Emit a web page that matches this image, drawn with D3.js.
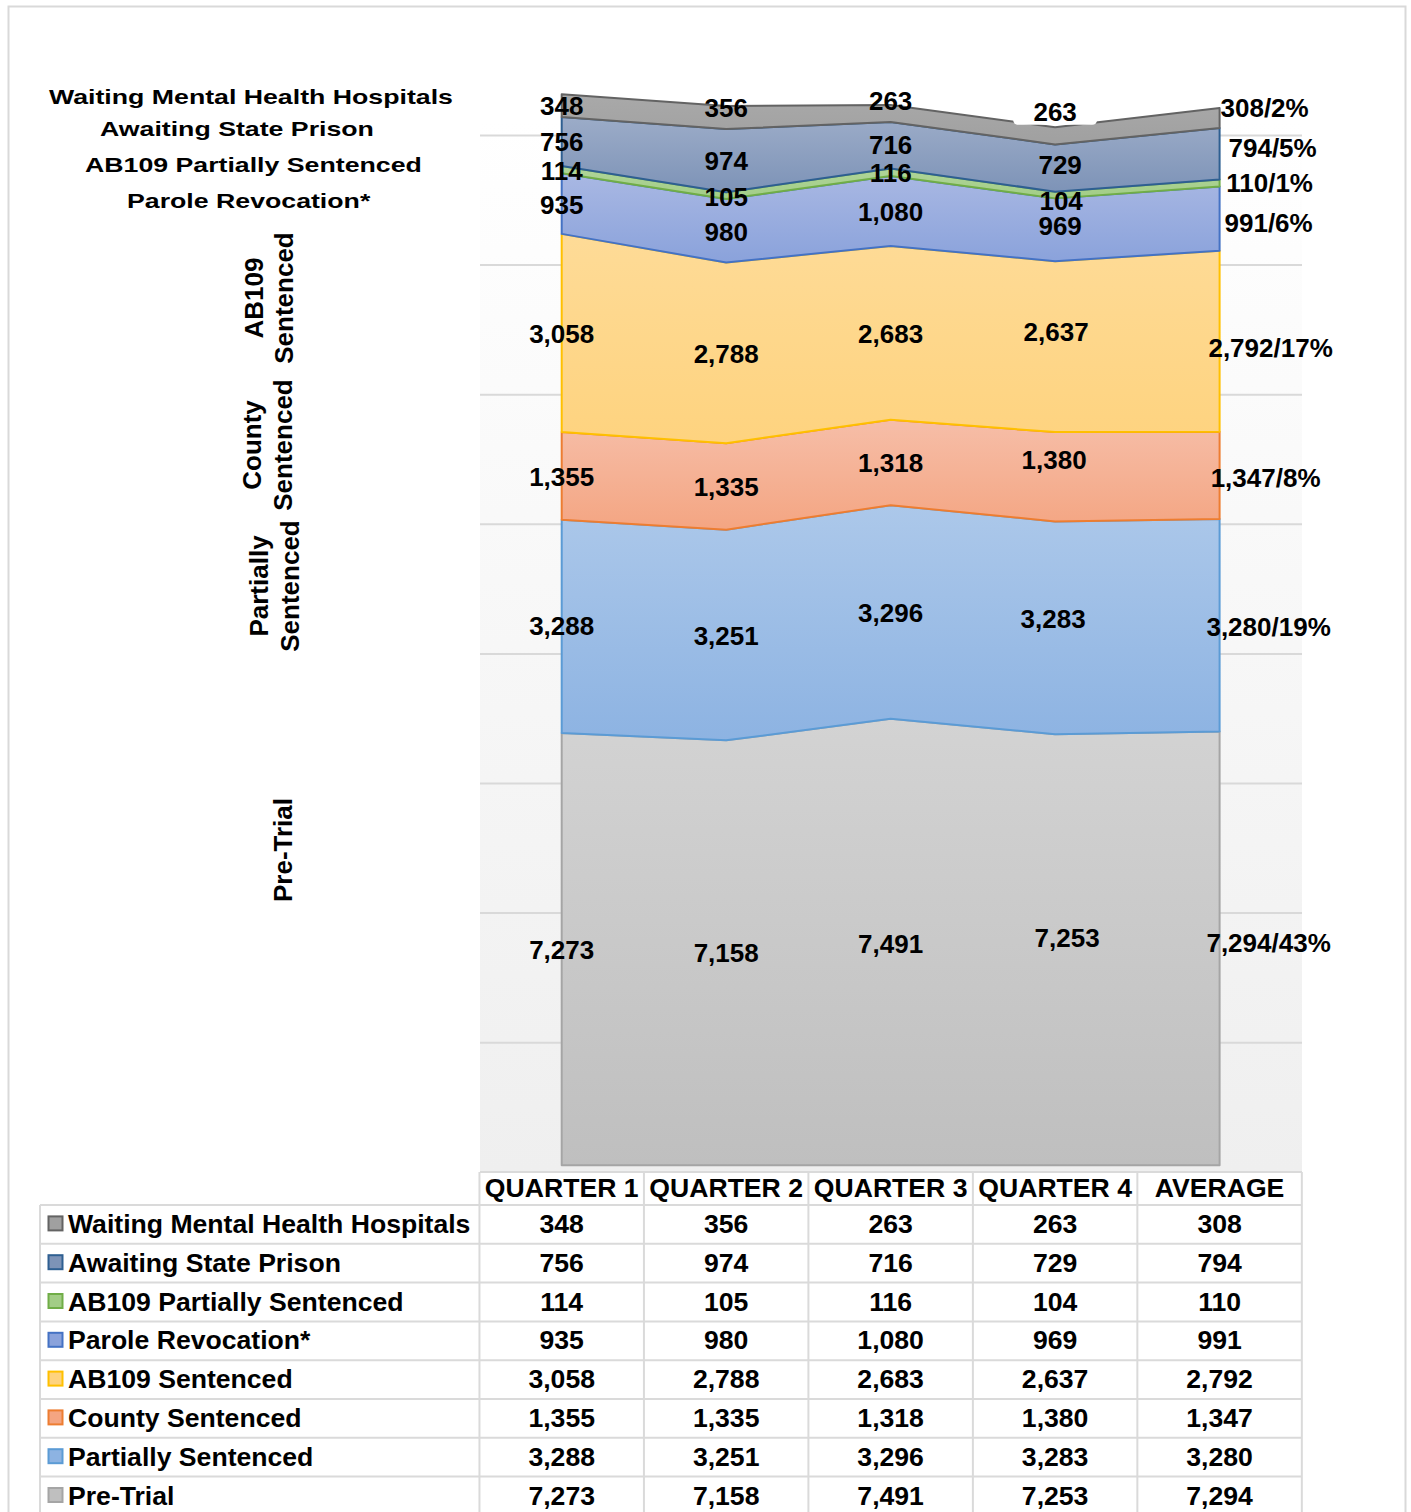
<!DOCTYPE html>
<html>
<head>
<meta charset="utf-8">
<script src="https://cdn.jsdelivr.net/npm/d3@7"></script>
<style>
  body { margin: 0; background: #fff; }
  svg text { font-family: "Liberation Sans", Arial, sans-serif; font-weight: bold; fill: #000; }
</style>
</head>
<body>
<svg width="1411" height="1512"></svg>
<script>
const width = 1411;
const height = 1512;

// categories (columns of the data table)
const quarters = ["QUARTER 1", "QUARTER 2", "QUARTER 3", "QUARTER 4", "AVERAGE"];

// series, bottom of the stack first
const seriesNames = [
    "Pre-Trial",
    "Partially Sentenced",
    "County Sentenced",
    "AB109 Sentenced",
    "Parole Revocation*",
    "AB109 Partially Sentenced",
    "Awaiting State Prison",
    "Waiting Mental Health Hospitals",
];
const preTrial = [7273, 7158, 7491, 7253, 7294];
const partiallySentenced = [3288, 3251, 3296, 3283, 3280];
const countySentenced = [1355, 1335, 1318, 1380, 1347];
const ab109Sentenced = [3058, 2788, 2683, 2637, 2792];
const paroleRevocation = [935, 980, 1080, 969, 991];
const ab109Partial = [114, 105, 116, 104, 110];
const awaitingPrison = [756, 974, 716, 729, 794];
const waitingMental = [348, 356, 263, 263, 308];

const seriesValues = [
    preTrial, partiallySentenced, countySentenced, ab109Sentenced,
    paroleRevocation, ab109Partial, awaitingPrison, waitingMental,
];

// fill gradient (top, bottom) and border per series
const colorMap = {
    "Pre-Trial": ["#d3d3d3", "#bfbfbf", "#a5a5a5"],
    "Partially Sentenced": ["#acc8ea", "#8db3e2", "#5b9bd5"],
    "County Sentenced": ["#f6bea8", "#f4a582", "#ed7d31"],
    "AB109 Sentenced": ["#fedb97", "#fed37f", "#ffc000"],
    "Parole Revocation*": ["#a9b8e3", "#8aa2db", "#4472c4"],
    "AB109 Partially Sentenced": ["#b0d59a", "#a2cd86", "#70ad47"],
    "Awaiting State Prison": ["#9cacc8", "#7d93b7", "#2e5f91"],
    "Waiting Mental Health Hospitals": ["#a9a9a9", "#a0a0a0", "#636363"],
};

// manual label moves, as in the source chart [dx, dy] per column
const labelNudge = {
    "Waiting Mental Health Hospitals": [[0, 0], [0, -10], [0, -13], [0, -24], [-4, -10]],
    "Awaiting State Prison": [[0, 0], [0, 0], [0, 0], [5, -3], [4, -6]],
    "AB109 Partially Sentenced": [[0, 1], [0, 1], [0, 1], [6, 6], [1, 0]],
    "Parole Revocation*": [[0, 1], [0, 1], [0, 1], [5, -4], [0, 4]],
    "AB109 Sentenced": [[0, 1], [0, 1], [0, 1], [1, -15], [2, 7]],
    "County Sentenced": [[0, 1], [0, 0], [0, 0], [-1, -17], [-3, 3]],
    "Partially Sentenced": [[0, 0], [0, 1], [0, 1], [-2, -9], [0, 2]],
    "Pre-Trial": [[0, 1], [0, 0], [0, 2], [12, -12], [0, -6]],
};

const svg = d3.select("svg");
const defs = svg.append("defs");

const plotLeft = 480;
const plotRight = 1302;
const tableTop = 1172;
const rowH = 38.8;
const floorValue = 600;

const x = d3.scalePoint().domain(quarters).range([561.7, 1219.6]);
const step = x.step();
const y = d3.scaleLinear().domain([0, 18000]).range([1204.2, 37.8]);

// outer frame
svg.append("rect")
    .attr("x", 8.5).attr("y", 6.5)
    .attr("width", 1397).attr("height", 1530)
    .attr("fill", "none").attr("stroke", "#d9d9d9").attr("stroke-width", 2);

// plot background
const bg = defs.append("linearGradient").attr("id", "plotbg")
    .attr("x1", 0).attr("y1", 0).attr("x2", 0).attr("y2", 1);
bg.append("stop").attr("offset", "0%").attr("stop-color", "#ffffff");
bg.append("stop").attr("offset", "100%").attr("stop-color", "#efefef");
svg.append("rect")
    .attr("x", plotLeft).attr("y", 120)
    .attr("width", plotRight - plotLeft).attr("height", tableTop - 120)
    .attr("fill", "url(#plotbg)");

// gridlines
const grid = d3.axisLeft(y)
    .tickValues(d3.range(2500, 17000, 2000))
    .tickSize(-(plotRight - plotLeft))
    .tickFormat("");
svg.append("g")
    .attr("transform", `translate(${plotLeft},0)`)
    .call(grid)
    .call((g) => g.select(".domain").remove())
    .call((g) => g.selectAll(".tick line").attr("stroke", "#d9d9d9").attr("stroke-width", 2));

// stacked areas
const rows = quarters.map((q, i) => {
    const row = { cat: q };
    seriesNames.forEach((s, j) => (row[s] = seriesValues[j][i]));
    return row;
});
const stacked = d3.stack().keys(seriesNames)(rows);

seriesNames.forEach((s, i) => {
    const g = defs.append("linearGradient").attr("id", `grad${i}`)
        .attr("x1", 0).attr("y1", 0).attr("x2", 0).attr("y2", 1);
    g.append("stop").attr("offset", "0%").attr("stop-color", colorMap[s][0]);
    g.append("stop").attr("offset", "100%").attr("stop-color", colorMap[s][1]);
});

const area = d3.area()
    .x((d) => x(d.data.cat))
    .y0((d) => y(Math.max(d[0], floorValue)))
    .y1((d) => y(d[1]));

svg.append("g")
    .selectAll("path")
    .data(stacked)
    .join("path")
    .attr("d", (d) => area(d) + "Z")
    .attr("fill", (d, i) => `url(#grad${i})`)
    .attr("stroke", (d) => colorMap[d.key][2])
    .attr("stroke-width", 2)
    .attr("stroke-linejoin", "round");

// data labels
const totals = quarters.map((q, i) => d3.sum(seriesValues, (v) => v[i]));
const fmt = d3.format(",");
const labelData = [];
stacked.forEach((layer) => {
    layer.forEach((d, i) => {
        const v = d[1] - d[0];
        const cy = (y(Math.max(d[0], floorValue)) + y(d[1])) / 2;
        const nudge = labelNudge[layer.key][i];
        const isAvg = i === quarters.length - 1;
        labelData.push({
            text: isAvg ? `${fmt(v)}/${Math.round((v / totals[i]) * 100)}%` : fmt(v),
            x: x(d.data.cat) + (isAvg ? 49 : 0) + nudge[0],
            y: cy + nudge[1],
            boxed: layer.key === "Waiting Mental Health Hospitals" && i === 3,
        });
    });
});

const labels = svg.append("g").style("font-size", "26px");
labels.selectAll("rect")
    .data(labelData.filter((d) => d.boxed))
    .join("rect")
    .attr("x", (d) => d.x - 42).attr("y", (d) => d.y - 17)
    .attr("width", 84).attr("height", 30).attr("rx", 5)
    .attr("fill", "#fff");
labels.selectAll("text")
    .data(labelData)
    .join("text")
    .attr("x", (d) => d.x)
    .attr("y", (d) => d.y)
    .attr("dy", "0.35em")
    .attr("text-anchor", "middle")
    .text((d) => d.text);

// series names at the top left (squeezed vertically like the source)
const topNames = [
    ["Waiting Mental Health Hospitals", 49, 104],
    ["Awaiting State Prison", 100, 136],
    ["AB109 Partially Sentenced", 85, 172],
    ["Parole Revocation*", 127, 208],
];
svg.append("g")
    .style("font-size", "26.7px")
    .selectAll("text")
    .data(topNames)
    .join("text")
    .attr("transform", (d) => `translate(${d[1]},${d[2]}) scale(1,0.78)`)
    .text((d) => d[0]);

// rotated series names on the left
const sideNames = [
    [["AB109", "Sentenced"], [263, 293], 298],
    [["County", "Sentenced"], [261, 292], 445],
    [["Partially", "Sentenced"], [268, 299], 586],
    [["Pre-Trial"], [292], 850],
];
const side = svg.append("g").style("font-size", "26px");
sideNames.forEach(([lines, xs, cy]) => {
    lines.forEach((t, k) => {
        side.append("text")
            .attr("transform", `translate(${xs[k]},${cy}) rotate(-90)`)
            .attr("text-anchor", "middle")
            .text(t);
    });
});

// data table
const table = svg.append("g").style("font-size", "26.6px");
const lineColor = "#dadada";
const tableRows = seriesNames.slice().reverse();
const tableBottom = tableTop + rowH * (tableRows.length + 1) + 20;

// header cells
table.selectAll("text.head")
    .data(quarters)
    .join("text")
    .attr("class", "head")
    .attr("x", (d) => x(d))
    .attr("y", tableTop + 25)
    .attr("text-anchor", "middle")
    .text((d) => d);

// horizontal rules
table.append("line")
    .attr("x1", plotLeft).attr("x2", plotRight)
    .attr("y1", tableTop).attr("y2", tableTop)
    .attr("stroke", lineColor).attr("stroke-width", 2);
table.selectAll("line.row")
    .data(d3.range(tableRows.length))
    .join("line")
    .attr("class", "row")
    .attr("x1", 40).attr("x2", plotRight)
    .attr("y1", (k) => tableTop + 33 + rowH * k)
    .attr("y2", (k) => tableTop + 33 + rowH * k)
    .attr("stroke", lineColor).attr("stroke-width", 2);

// vertical rules
const colEdges = quarters.map((q) => x(q) - step / 2).concat([x(quarters[quarters.length - 1]) + step / 2]);
table.selectAll("line.col")
    .data(colEdges)
    .join("line")
    .attr("class", "col")
    .attr("x1", (d) => d).attr("x2", (d) => d)
    .attr("y1", tableTop).attr("y2", tableBottom)
    .attr("stroke", lineColor).attr("stroke-width", 2);
table.append("line")
    .attr("x1", 40).attr("x2", 40)
    .attr("y1", tableTop + 33).attr("y2", tableBottom)
    .attr("stroke", lineColor).attr("stroke-width", 2);

// rows: legend key, name, values
tableRows.forEach((s, k) => {
    const cy = tableTop + 33 + rowH * k + rowH / 2;
    const vals = seriesValues[seriesNames.indexOf(s)];
    table.append("rect")
        .attr("x", 48.5).attr("y", cy - 8)
        .attr("width", 14).attr("height", 14)
        .attr("fill", colorMap[s][1])
        .attr("stroke", colorMap[s][2]).attr("stroke-width", 2);
    table.append("text")
        .attr("x", 68).attr("y", cy + 8.5)
        .text(s);
    table.selectAll(null)
        .data(vals)
        .join("text")
        .attr("x", (d, i) => x(quarters[i]))
        .attr("y", cy + 8.5)
        .attr("text-anchor", "middle")
        .text((d) => fmt(d));
});
</script>
</body>
</html>
